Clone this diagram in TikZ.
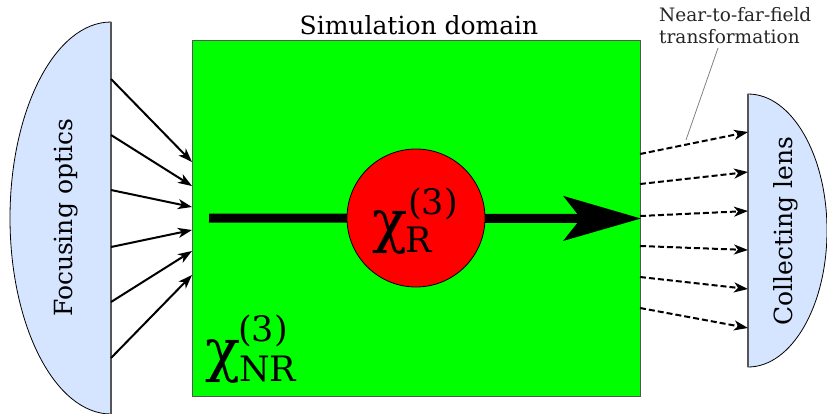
\documentclass[tikz,border=0pt]{standalone}
\usepackage{fontspec}
\setmainfont{DejaVu Serif}
\usetikzlibrary{arrows.meta}
\definecolor{lensblue}{HTML}{D5E5FF}
\definecolor{edgegray}{HTML}{555555}
\tikzset{
  lens/.style={fill=lensblue, draw=black, line width=0.8pt},
  flatedge/.style={draw=edgegray, line width=2pt},
  beam/.style={line width=2pt, -{Stealth[length=14pt,width=10pt,inset=4pt]}},
  farbeam/.style={line width=2pt, dash pattern=on 6pt off 3pt, -{Stealth[length=14pt,width=10pt,inset=4pt]}},
  lbl/.style={inner sep=0pt, font=\fontsize{25}{29}\selectfont},
  chibig/.style={inner sep=0pt, anchor=base west, font=\fontsize{58}{58}\selectfont},
  chismall/.style={inner sep=0pt, anchor=base west, font=\fontsize{35}{35}\selectfont},
}
\begin{document}
\begin{tikzpicture}[x=1pt,y=-1pt]
\useasboundingbox (0,0) rectangle (827,413);
% simulation domain
\node[rectangle, draw=edgegray, line width=1pt, fill=green, minimum width=448pt, minimum height=356pt, inner sep=0pt, anchor=north west] (dom) at (192,40) {};
\node[lbl, anchor=base] (title) at (419,34) {Simulation domain};
% left lens
\path[lens] (111,22) arc[start angle=90, end angle=270, x radius=101pt, y radius=196pt] -- cycle;
\draw[flatedge] (111,22) -- (111,414);
\node[lbl, rotate=90] (focus) at (66,218) {Focusing optics};
% right lens
\path[lens] (748,94) arc[start angle=90, end angle=-90, x radius=79pt, y radius=136.5pt] -- cycle;
\draw[flatedge] (748,94) -- (748,367);
\node[lbl, rotate=90] (collect) at (786,231) {Collecting lens};
% input beams
\foreach \i/\ya/\yb in {1/79/162, 2/135/186, 3/190/207, 4/247/230, 5/302/251, 6/358/275} {
  \coordinate (a\i) at (111,\ya);
  \coordinate (b\i) at (192,\yb);
  \draw[beam] (a\i) -- (b\i);
}
% output beams
\foreach \i/\ya/\yb in {1/154/132, 2/184/172, 3/216/211, 4/246/250, 5/277/289, 6/308/328} {
  \coordinate (c\i) at (640,\ya);
  \coordinate (d\i) at (748,\yb);
  \draw[farbeam] (c\i) -- (d\i);
}
% main beam
\coordinate (beamstart) at (209,218);
\draw[line width=9pt, -{Stealth[length=77pt,width=44pt,inset=17pt]}] (beamstart) -- (dom.east);
% resonant region
\node[circle, draw=black, line width=0.8pt, fill=red, minimum size=138pt, inner sep=0pt] (res) at (416,218) {};
\node[chibig] (chiR) at (372,241) {χ};
\node[chismall] (chiRsub) at (405,252) {R};
\node[chismall] (chiRsup) at (408,214) {(3)};
\node[chibig] (chiNR) at (205,370) {χ};
\node[chismall] (chiNRsub) at (239,381) {NR};
\node[chismall] (chiNRsup) at (238,341) {(3)};
% near-to-far-field label
\node[inner sep=0pt, anchor=north west, font=\fontsize{18.5}{22}\selectfont, align=left, text=black!85] (nff) at (659,7) {Near-to-far-field\\transformation};
\coordinate (nffpt) at (686,140);
\draw[gray, line width=0.8pt] (718,48) -- (nffpt);
\end{tikzpicture}
\end{document}
